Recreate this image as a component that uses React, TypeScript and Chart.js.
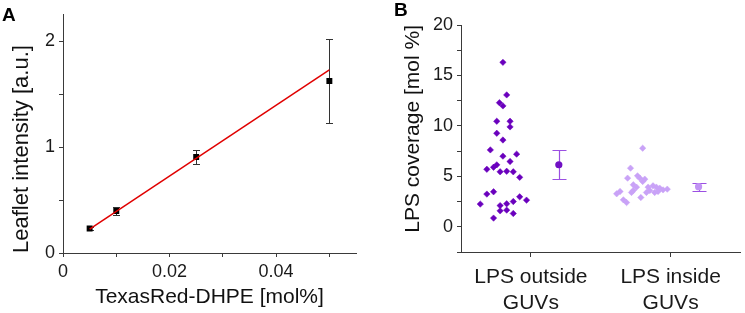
import React, { useEffect, useRef } from 'react';
import { Chart, registerables } from 'chart.js';

Chart.register(...registerables);

const FONT = '"Liberation Sans", Arial, Helvetica, sans-serif';

// ---------- Panel A data ----------
const concentrations = [0.005, 0.01, 0.025, 0.05];
const leafletIntensity = [0.231, 0.397, 0.906, 1.624];
const intensityError = [0.015, 0.04, 0.07, 0.4];
const fitX = [0.005, 0.05];
const fitY = [0.225, 1.73];
const xTicksA = [0, 0.01, 0.02, 0.03, 0.04, 0.05];
const xLabelsA = ['0', '', '0.02', '', '0.04', ''];
const yTicksA = [0, 0.5, 1, 1.5, 2];
const yLabelsA = ['0', '', '1', '', '2'];

// ---------- Panel B data ----------
const categories = [
  ['LPS outside', 'GUVs'],
  ['LPS inside', 'GUVs'],
];
const categoryPositions = [1, 2];
const outsideX = [0.8, 0.827, 0.775, 0.8, 0.756, 0.851, 0.851, 0.756, 0.8, 0.71, 0.898, 0.8, 0.851, 0.756, 0.733, 0.685, 0.78, 0.827, 0.874, 0.92, 0.685, 0.733, 0.638, 0.78, 0.827, 0.874, 0.92, 0.969, 0.78, 0.827, 0.874, 0.733];
const outsideY = [16.3, 13.07, 12.3, 11.98, 10.46, 10.46, 9.9, 9.27, 8.6, 7.62, 7.2, 7.0, 6.47, 6.14, 5.9, 5.7, 5.45, 5.5, 5.45, 4.9, 3.24, 3.47, 2.25, 2.1, 2.28, 2.5, 2.97, 2.64, 1.58, 1.65, 1.32, 0.86];
const insideX = [1.8, 1.713, 1.692, 1.763, 1.78, 1.815, 1.8, 1.733, 1.756, 1.839, 1.874, 1.898, 1.922, 1.946, 1.976, 1.851, 1.733, 1.638, 1.614, 1.827, 1.886, 1.72, 1.787, 1.662, 1.685, 1.91];
const insideY = [7.79, 5.81, 4.82, 5.05, 4.82, 4.72, 4.49, 4.16, 3.93, 3.93, 4.06, 3.93, 3.83, 3.66, 3.73, 3.6, 3.6, 3.5, 3.27, 3.4, 3.4, 3.4, 2.9, 2.67, 2.4, 3.5];
const meanX = [1.2, 2.2];
const meanY = [6.15, 3.97];
const meanErr = [1.45, 0.4];
const yTicksB = [-2.5, 0, 2.5, 5, 7.5, 10, 12.5, 15, 17.5, 20];
const yLabelsB = ['', '0', '', '5', '', '10', '', '15', '', '20'];

const errorBarPlugin = {
  id: 'errorBarsCustom',
  beforeDatasetsDraw(chart: any) {
    const ctx = chart.ctx;
    chart.data.datasets.forEach((ds: any, i: number) => {
      const err = ds.errorValues;
      if (!err) return;
      const meta = chart.getDatasetMeta(i);
      const xs = chart.scales[meta.xAxisID];
      const ys = chart.scales[meta.yAxisID];
      ctx.save();
      ctx.strokeStyle = ds.errorColor;
      ctx.lineWidth = ds.errorWidth || 1;
      const c = ds.capHalf || 4;
      ds.data.forEach((p: any, j: number) => {
        const x = Math.round(xs.getPixelForValue(p.x)) + 0.5;
        const y1 = Math.round(ys.getPixelForValue(p.y + err[j])) + 0.5;
        const y2 = Math.round(ys.getPixelForValue(p.y - err[j])) + 0.5;
        ctx.beginPath();
        ctx.moveTo(x, y1);
        ctx.lineTo(x, y2);
        ctx.moveTo(x - c, y1);
        ctx.lineTo(x + c, y1);
        ctx.moveTo(x - c, y2);
        ctx.lineTo(x + c, y2);
        ctx.stroke();
      });
      ctx.restore();
    });
  },
};

const axisCommon = (tickLabels: string[], tickValues: number[]) => ({
  afterBuildTicks: (s: any) => {
    s.ticks = tickValues.map((v) => ({ value: v }));
  },
  ticks: {
    callback: (_v: any, i: number) => tickLabels[i],
    font: { family: FONT, size: 18 },
    color: '#1a1a1a',
    padding: 4,
    maxRotation: 0,
    autoSkip: false,
  },
  grid: { display: true, drawOnChartArea: false, drawTicks: true, tickLength: 4, color: '#3a3a3a' },
  border: { display: true, color: '#3a3a3a', width: 1 },
});

function PanelA() {
  const ref = useRef<HTMLCanvasElement>(null);
  useEffect(() => {
    const chart = new Chart(ref.current!, {
      type: 'scatter',
      data: {
        datasets: [
          {
            type: 'line',
            data: fitX.map((x, i) => ({ x, y: fitY[i] })),
            borderColor: '#e00000',
            borderWidth: 1.5,
            pointRadius: 0,
            showLine: true,
            fill: false,
          } as any,
          {
            data: concentrations.map((x, i) => ({ x, y: leafletIntensity[i] })),
            pointStyle: 'rect',
            pointRadius: 4.2,
            backgroundColor: '#000',
            borderColor: '#000',
            borderWidth: 0,
            errorValues: intensityError,
            errorColor: '#333',
            capHalf: 3.5,
          } as any,
        ],
      },
      options: {
        animation: false,
        responsive: false,
        maintainAspectRatio: false,
        layout: { padding: { top: 12, right: 14, left: 0, bottom: 0 } },
        plugins: { legend: { display: false }, tooltip: { enabled: false } },
        scales: {
          x: {
            type: 'linear',
            min: 0,
            max: 0.055,
            ...axisCommon(xLabelsA, xTicksA),
            title: {
              display: true,
              text: 'TexasRed-DHPE [mol%]',
              font: { family: FONT, size: 21 },
              color: '#111',
              padding: { top: 0, bottom: 3 },
            },
            afterFit: (s: any) => {
              s.height = 60;
            },
          } as any,
          y: {
            type: 'linear',
            min: 0,
            max: 2.25,
            ...axisCommon(yLabelsA, yTicksA),
            title: {
              display: true,
              text: 'Leaflet intensity [a.u.]',
              align: 'start',
              font: { family: FONT, size: 22 },
              color: '#111',
              padding: { top: 9, bottom: 0 },
            },
            afterFit: (s: any) => {
              s.width = 63;
            },
          } as any,
        },
      },
      plugins: [errorBarPlugin],
    });
    return () => chart.destroy();
  }, []);
  return <canvas ref={ref} width={370} height={313} style={{ display: 'block' }} />;
}

function PanelB() {
  const ref = useRef<HTMLCanvasElement>(null);
  useEffect(() => {
    const chart = new Chart(ref.current!, {
      type: 'scatter',
      data: {
        datasets: [
          {
            data: outsideX.map((x, i) => ({ x, y: outsideY[i] })),
            pointStyle: 'rectRot',
            pointRadius: 3.2,
            backgroundColor: '#6a00bd',
            borderColor: '#6a00bd',
            borderWidth: 0.5,
          },
          {
            data: insideX.map((x, i) => ({ x, y: insideY[i] })),
            pointStyle: 'rectRot',
            pointRadius: 3.2,
            backgroundColor: '#c9a2f7',
            borderColor: '#c9a2f7',
            borderWidth: 0.5,
          },
          {
            data: meanX.map((x, i) => ({ x, y: meanY[i] })),
            pointStyle: 'circle',
            pointRadius: 3.6,
            backgroundColor: ['#7010c4', '#c193f4'],
            borderColor: ['#7010c4', '#c193f4'],
            borderWidth: 0,
            errorValues: meanErr,
            errorColor: '#9b4fe2',
            errorWidth: 1.2,
            capHalf: 7,
          } as any,
        ],
      },
      options: {
        animation: false,
        responsive: false,
        maintainAspectRatio: false,
        layout: { padding: { top: 25, right: 2, left: 0, bottom: 0 } },
        plugins: { legend: { display: false }, tooltip: { enabled: false } },
        scales: {
          x: {
            type: 'linear',
            min: 0.5,
            max: 2.5,
            afterBuildTicks: (s: any) => {
              s.ticks = categoryPositions.map((v) => ({ value: v }));
            },
            ticks: {
              callback: (_v: any, i: number) => categories[i],
              font: { family: FONT, size: 21, lineHeight: 1.2 },
              color: '#1a1a1a',
              padding: 8,
              maxRotation: 0,
              autoSkip: false,
            },
            grid: { display: true, drawOnChartArea: false, drawTicks: true, tickLength: 5, color: '#3a3a3a' },
            border: { display: true, color: '#3a3a3a', width: 1 },
            afterFit: (s: any) => {
              s.height = 61;
            },
          } as any,
          y: {
            type: 'linear',
            min: -2.5,
            max: 20,
            ...axisCommon(yLabelsB, yTicksB),
            title: {
              display: true,
              text: 'LPS coverage [mol %]',
              align: 'end',
              font: { family: FONT, size: 21 },
              color: '#111',
              padding: { top: 31, bottom: 0 },
            },
            afterFit: (s: any) => {
              s.width = 91;
            },
          } as any,
        },
      },
      plugins: [errorBarPlugin],
    });
    return () => chart.destroy();
  }, []);
  return <canvas ref={ref} width={375} height={313} style={{ display: 'block' }} />;
}

const panelLabel: React.CSSProperties = {
  position: 'absolute',
  fontFamily: FONT,
  fontWeight: 'bold',
  fontSize: 19,
  lineHeight: '19px',
  color: '#000',
};

export default function App() {
  return (
    <div style={{ position: 'fixed', left: 0, top: 0, width: 745, height: 313, background: '#fff' }}>
      <div style={{ position: 'absolute', left: 0, top: 0 }}>
        <PanelA />
      </div>
      <div style={{ position: 'absolute', left: 370, top: 0 }}>
        <PanelB />
      </div>
      <div style={{ ...panelLabel, left: 2, top: 5 }}>A</div>
      <div style={{ ...panelLabel, left: 394, top: 0 }}>B</div>
    </div>
  );
}
